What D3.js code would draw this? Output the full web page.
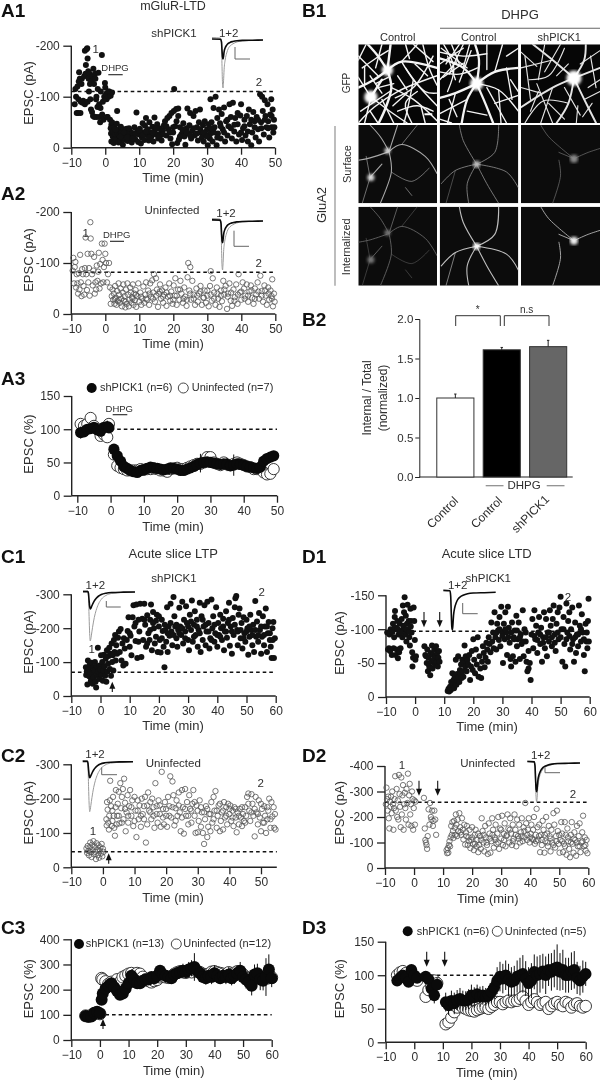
<!DOCTYPE html>
<html><head><meta charset="utf-8">
<script src="https://cdn.jsdelivr.net/npm/d3@7"></script>
<style>
html,body{margin:0;padding:0;background:#fff}
svg{display:block;filter:blur(0.35px)}
text{font-family:"Liberation Sans",Arial,sans-serif;fill:#2e2e2e}
</style></head><body>
<script>
// ---------- scatter data: [time (min), |EPSC| (pA)]
const a1Points=[[-9,85],[-8.8,115],[-8.6,100],[-8.4,68],[-8.2,120],[-8,68],[-7.9,95],[-7.8,130],[-7.7,148],[-7.5,135],[-7.3,68],[-7.2,90],[-7,125],[-6.9,135],[-6.7,88],[-6.5,92],[-6.2,140],[-6,190],[-6,85],[-5.8,145],[-5.7,162],[-5.5,193],[-5.3,195],[-5.2,175],[-5.2,90],[-5,150],[-4.9,135],[-4.8,110],[-4.6,145],[-4.5,125],[-4.4,95],[-4.2,75],[-4.1,130],[-3.9,70],[-3.8,140],[-3.6,62],[-3.5,155],[-3.3,125],[-3.2,60],[-3,145],[-2.9,135],[-2.7,95],[-2.6,100],[-2.5,60],[-2.3,80],[-2.2,115],[-2,147],[-1.8,85],[-1.7,60],[-1.5,50],[-1.4,78],[-1.3,110],[-1,182],[-0.9,65],[-0.7,90],[-0.5,55],[-0.3,100],[-0.1,127],[0,118],[0.2,105],[0.4,95],[0.5,60],[0.7,60],[0.9,110],[1,100],[1.2,110],[1.4,55],[1.6,102],[1.8,45],[2,108],[1.6,38],[1.7,28],[1.8,12],[2,50],[2.2,22],[2.4,32],[2.5,9],[2.7,40],[2.9,18],[3,27],[3.2,15],[3.4,47],[3.5,72],[3.7,28],[3.9,10],[4,35],[4.2,24],[4.4,14],[4.6,41],[4.8,30],[5,19],[5.2,6],[5.4,36],[5.6,25],[5.8,16],[6,30],[6.3,37],[6.6,13],[6.9,25],[7.2,33],[7.5,18],[7.8,10],[8,29],[8.3,24],[8.6,40],[8.9,16],[9.2,69],[9.4,32],[9.7,11],[10,26],[10.2,37],[10.5,8],[10.8,20],[11,48],[11.2,30],[11.5,15],[11.7,43],[12,58],[12.2,25],[12.5,36],[12.8,14],[13,50],[13.3,30],[13.6,22],[13.9,41],[14.2,12],[14.5,59],[14.7,35],[15,26],[15.3,46],[15.6,18],[16,38],[16.3,28],[16.6,14],[17,34],[17.3,44],[17.6,52],[18,24],[18.3,58],[18.6,36],[18.9,62],[19.2,18],[19.5,68],[19.7,7],[20,30],[20.2,72],[20.3,115],[20.6,42],[20.9,76],[21.2,9],[21.5,77],[21.7,16],[22,40],[22.4,26],[22.8,33],[23,48],[23.3,22],[23.6,6],[24,38],[24.2,77],[24.5,28],[24.8,44],[25,68],[25.3,18],[25.6,33],[26,62],[26.3,24],[26.6,72],[27,40],[27.3,14],[27.6,50],[27.9,75],[28.2,30],[28.5,20],[28.8,44],[29,12],[29.3,52],[29.6,26],[30,36],[30.2,5],[30.5,46],[30.8,18],[31,95],[31,28],[31.3,50],[31.6,12],[31.9,78],[32.2,40],[32.5,100],[32.8,5],[33,58],[33.2,28],[33.5,75],[33.8,48],[34,18],[34.3,66],[34.6,36],[35,79],[35.3,12],[35.6,52],[36,24],[36.3,42],[36.6,85],[37,60],[37.3,18],[37.6,88],[38,32],[38.3,58],[38.6,12],[39,46],[39.4,26],[39.8,63],[40,85],[40.3,15],[40.6,38],[41,55],[41.3,24],[41.7,62],[42,12],[42.3,75],[42.6,46],[43,5],[43.3,30],[43.6,70],[44,52],[44.3,20],[44.6,60],[45,36],[45.3,12],[45.6,105],[45.9,50],[46.2,100],[46.4,72],[46.7,26],[47,93],[47.2,62],[47.5,40],[47.8,85],[48,52],[48.3,20],[48.6,65],[48.9,95],[49,40],[49.3,75],[49.5,30],[49.7,55],[49.8,40]];
const a1Extra=[[3,35],[4.5,22],[5.5,30],[6.5,20],[7,38],[8,18],[9,27],[10,33],[11,25],[12,32],[13,20],[14,30],[15,38],[16,22],[17,26],[18,42],[19,30],[20,40],[21,52],[21.5,62],[22,22],[23,36],[24,30],[25,24],[26,38],[27,28],[28,36],[29,30],[30,22],[31,38],[32,30],[33,20],[34,42],[35,30],[36,55],[37,38],[38,45],[39,68],[40,30],[41,42],[42,32],[43,55],[44,40],[45,55],[46,38],[47,55],[48,38],[49,62]];
const a2Points=[[-9.6,85],[-9.4,110],[-9.2,60],[-9,92],[-8.8,102],[-8.6,52],[-8.4,78],[-8.2,60],[-8,40],[-7.8,80],[-7.6,48],[-7.4,116],[-7.2,62],[-7,35],[-6.8,88],[-6.6,78],[-6.4,55],[-6.2,38],[-6,90],[-5.8,150],[-5.6,78],[-5.4,47],[-5.2,118],[-5,62],[-4.8,90],[-4.6,36],[-4.4,180],[-4.3,148],[-4.1,118],[-3.9,78],[-3.7,56],[-3.5,85],[-3.3,112],[-3.1,40],[-2.9,62],[-2.7,48],[-2.5,95],[-2.3,65],[-2.1,83],[-1.9,120],[-1.7,50],[-1.5,98],[-1.3,60],[-1,138],[-0.8,106],[-0.6,62],[-0.4,92],[-0.2,138],[0,118],[0.2,100],[0.5,62],[0.8,78],[1.1,100],[1.4,52],[1.6,20],[1.9,35],[2.1,48],[2.3,28],[2.5,40],[2.7,20],[2.9,55],[3.1,32],[3.3,18],[3.5,45],[3.7,25],[3.9,60],[4.1,38],[4.3,22],[4.5,50],[4.7,30],[4.9,15],[5.1,42],[5.3,58],[5.5,26],[5.7,35],[5.9,13],[6.1,48],[6.3,20],[6.5,60],[6.7,38],[6.9,15],[7.1,28],[7.3,52],[7.5,42],[7.7,22],[7.9,33],[8.1,58],[8.3,18],[8.5,40],[8.7,27],[8.9,47],[9.1,14],[9.4,35],[9.7,60],[10,24],[10.3,42],[10.6,18],[10.9,30],[11.2,54],[11.5,22],[11.8,38],[12,62],[12.3,28],[12.6,46],[12.9,18],[13.2,60],[13.5,34],[13.8,66],[14.1,42],[14.3,78],[14.6,24],[14.9,70],[15.2,48],[15.5,14],[15.8,40],[16.1,58],[16.4,30],[16.7,46],[17,22],[17.3,38],[17.7,52],[18,16],[18.4,34],[18.8,60],[19.1,26],[19.4,44],[19.8,20],[20.1,56],[20.4,36],[20.6,70],[21,18],[21.4,48],[21.8,28],[22.1,65],[22.4,40],[22.8,22],[23.2,52],[23.5,34],[23.9,16],[24.2,72],[24.4,100],[24.7,46],[25,92],[25.2,28],[25.6,65],[26,38],[26.4,18],[26.8,50],[27.2,24],[27.6,40],[28,55],[28.4,18],[28.8,32],[29.2,46],[29.6,22],[30,36],[30.4,15],[30.8,55],[31,84],[31.3,26],[31.6,70],[32,42],[32.4,18],[32.8,52],[33.2,30],[33.6,14],[34,46],[34.3,25],[34.7,65],[35,38],[35.4,55],[35.8,10],[36.1,40],[36.5,60],[36.9,26],[37.3,16],[37.7,48],[38.1,33],[38.5,58],[38.9,20],[39.2,78],[39.6,42],[40,28],[40.4,62],[40.8,50],[41.2,36],[41.6,58],[42,24],[42.4,44],[42.8,56],[43.2,32],[43.6,20],[44,50],[44.4,38],[44.8,62],[45.2,30],[45.6,75],[46,45],[46.4,24],[46.8,56],[47.2,36],[47.5,18],[47.9,52],[48.2,28],[48.6,46],[48.9,35],[49.1,68],[49.3,15],[49.6,40],[49.8,24]];
const a2Extra=[[2.8,30],[4,28],[6,24],[8,30],[9,38],[10.5,34],[12,30],[13,40],[14,30],[15,36],[16,44],[17,34],[18,42],[19,36],[20,28],[21,36],[22,48],[23,30],[24,28],[25,40],[26,30],[27,36],[28,44],[29,32],[30,46],[31,38],[32,30],[33,40],[34,36],[35,48],[36,34],[37,42],[38,26],[39,38],[40,44],[41,30],[42,36],[43,46],[44,30],[45,44],[46,36],[47,46],[48,40],[49,30]];
const c1Points=[[-5,85],[-4.9,62],[-4.7,72],[-4.5,34],[-4.3,105],[-4.1,80],[-3.9,58],[-3.7,92],[-3.5,70],[-3.3,45],[-3.1,98],[-2.9,66],[-2.7,36],[-2.5,84],[-2.3,55],[-2.1,76],[-1.9,100],[-1.7,42],[-1.5,25],[-1.3,88],[-1.1,62],[-0.9,142],[-0.7,72],[-0.5,50],[-0.3,90],[-0.1,78],[0.2,120],[0.4,62],[0.6,100],[0.8,45],[1,75],[1.2,122],[1.4,88],[1.6,60],[1.8,110],[2,42],[2.2,135],[2.4,72],[2.6,95],[2.8,118],[3,142],[3.2,80],[3.4,125],[3.6,60],[3.8,155],[4,100],[4.2,120],[4.4,75],[4.6,165],[4.8,130],[5,180],[5.2,105],[5.4,150],[5.7,125],[6,172],[6.3,190],[6.6,130],[6.9,198],[7.2,105],[7.5,155],[7.8,90],[8,170],[8.3,140],[8.6,95],[9,165],[9.3,192],[9.6,232],[10,145],[10.3,178],[10.6,120],[11,232],[11.3,268],[11.6,205],[12,162],[12.3,270],[12.6,112],[13,225],[13.3,190],[13.6,272],[14,115],[14.3,228],[14.6,165],[15,272],[15.3,210],[15.6,145],[16,238],[16.4,185],[16.8,165],[17,225],[17.3,270],[17.6,135],[18,248],[18.3,200],[18.6,155],[19,222],[19.3,240],[19.6,130],[20,205],[20.3,165],[20.6,128],[21,225],[21.3,192],[21.6,145],[21.9,85],[22.2,195],[22.5,160],[22.8,262],[23,130],[23.3,205],[23.6,178],[24,272],[24.3,190],[24.6,150],[25,292],[25.3,235],[25.6,205],[26,170],[26.3,145],[26.6,195],[27,260],[27.3,205],[27.6,180],[28,278],[28.3,155],[28.6,225],[29,190],[29.3,265],[29.6,215],[30,165],[30.3,135],[30.6,240],[31,195],[31.3,282],[31.6,160],[32,210],[32.3,250],[32.6,180],[33,225],[33.3,145],[33.6,195],[34,275],[34.3,130],[34.6,235],[35,165],[35.3,205],[35.6,268],[36,150],[36.3,190],[36.6,278],[37,215],[37.3,140],[37.6,170],[38,285],[38.3,200],[38.6,235],[39,160],[39.3,185],[39.6,262],[40,145],[40.3,215],[40.6,180],[41,240],[41.3,200],[41.6,165],[42,228],[42.3,135],[42.6,190],[43,250],[43.3,172],[43.6,215],[44,275],[44.3,148],[44.6,205],[45,125],[45.3,230],[45.6,180],[46,262],[46.2,288],[46.5,295],[46.8,195],[47,150],[47.3,240],[47.6,258],[48,170],[48.3,215],[48.6,140],[49,232],[49.3,185],[49.6,160],[50,225],[50.3,200],[50.6,122],[51,175],[51.3,240],[51.6,195],[52,150],[52.3,210],[52.6,130],[53,280],[53.3,175],[53.6,220],[54,160],[54.3,245],[54.6,195],[55,125],[55.3,175],[55.6,235],[56,150],[56.3,205],[56.6,258],[57,130],[57.3,185],[57.6,218],[58,165],[58.3,145],[58.6,112],[58.9,200],[59.2,218],[59.4,112],[59.7,170]];
const c1Extra=[[10,185],[12,215],[13,160],[15,225],[16,155],[17,195],[18,215],[19,175],[20,235],[21,170],[22,210],[23,185],[24,215],[25,180],[26,210],[27,185],[28,200],[29,170],[30,205],[31,220],[32,175],[33,205],[34,185],[35,225],[36,210],[37,190],[38,165],[39,210],[40,180],[41,175],[42,205],[43,190],[44,225],[45,190],[46,210],[47,190],[48,195],[49,170],[50,190],[51,205],[52,180],[53,195],[54,180],[55,205],[56,180],[57,205],[58,185],[59,165]];
const c2Points=[[-5.2,55],[-5,42],[-4.8,62],[-4.6,48],[-4.4,35],[-4.2,58],[-4,72],[-3.8,44],[-3.6,30],[-3.4,66],[-3.2,50],[-3,76],[-2.8,38],[-2.6,60],[-2.4,45],[-2.2,24],[-2,70],[-1.8,52],[-1.6,35],[-1.4,64],[-1.2,28],[-1,48],[-0.8,58],[-0.6,40],[-0.4,68],[-0.2,32],[0,54],[0.2,45],[1.1,140],[1.2,122],[1.3,190],[1.5,168],[1.7,130],[1.9,110],[2,150],[2.2,195],[2.3,252],[2.6,178],[2.8,120],[3,135],[3.2,205],[3.4,150],[3.6,115],[3.8,92],[4,175],[4.1,225],[4.3,125],[4.5,150],[4.7,185],[5,220],[5.2,128],[5.5,245],[5.8,172],[6,205],[6.3,228],[6.5,140],[6.7,258],[7,188],[7.2,105],[7.5,160],[7.8,210],[8,130],[8.3,178],[8.6,225],[9,150],[9.3,195],[9.6,120],[10,205],[10.3,165],[10.6,88],[11,195],[11.3,140],[11.6,180],[12,118],[12.3,200],[12.6,155],[13,178],[13.3,205],[13.6,72],[14,125],[14.3,218],[14.6,165],[15,190],[15.3,140],[15.6,200],[16,150],[16.3,115],[16.6,245],[17,178],[17.3,130],[17.6,195],[18,155],[18.3,118],[18.6,278],[19,170],[19.3,125],[19.6,190],[20,150],[20.3,118],[20.6,205],[21,178],[21.3,265],[21.6,145],[22,250],[22.3,210],[22.6,122],[23,172],[23.3,195],[23.6,150],[24,218],[24.3,160],[24.6,105],[25,225],[25.3,175],[25.6,98],[26,228],[26.3,150],[26.6,190],[27,125],[27.3,210],[27.6,170],[28,130],[28.3,185],[28.6,225],[29,150],[29.3,100],[29.6,180],[30,102],[30.3,135],[30.6,195],[31,118],[31.3,160],[31.6,100],[32,68],[32.3,140],[32.6,178],[33,88],[33.3,118],[33.6,155],[34,105],[34.3,190],[34.6,130],[35,205],[35.3,165],[35.6,222],[36,115],[36.3,150],[36.6,180],[37,105],[37.3,135],[37.6,160],[38,110],[38.3,190],[38.6,145],[39,175],[39.3,125],[39.6,185],[40,155],[40.3,180],[40.6,135],[41,165],[41.3,120],[41.6,175],[42,145],[42.3,102],[42.6,160],[43,125],[43.3,170],[43.6,145],[44,120],[44.3,155],[44.6,135],[45,175],[45.3,150],[45.6,205],[46,215],[46.3,165],[46.6,135],[47,213],[47.3,185],[47.6,150],[48,90],[48.3,205],[48.6,160],[49,125],[49.3,195],[49.6,145],[50,105],[50.3,170],[50.6,130],[51,178],[51.3,150],[51.6,100],[52,140],[52.3,165],[52.6,200],[53,115],[53.3,190],[53.6,148],[54,175],[54.2,115],[54.4,155],[54.6,110]];
const c2Extra=[[3,165],[5,150],[6,130],[7,170],[8,150],[9,175],[10,135],[11,165],[12,150],[13,140],[14,180],[15,160],[16,175],[17,155],[18,180],[19,145],[20,170],[21,150],[22,175],[23,135],[24,180],[25,145],[26,170],[27,150],[28,165],[29,190],[30,165],[31,175],[32,160],[33,170],[34,155],[35,140],[36,165],[37,185],[38,165],[39,150],[40,170],[41,145],[42,170],[43,150],[44,175],[45,130],[46,185],[47,160],[48,170],[49,155],[50,185],[51,130],[52,175],[53,140]];
const d1Points=[[-9.6,95],[-9.3,70],[-9,72],[-8.8,92],[-8.6,68],[-8.4,100],[-8,62],[-7.8,96],[-7.6,108],[-7.4,72],[-7.2,88],[-7,118],[-6.9,127],[-6.7,62],[-6.5,102],[-6.3,70],[-6.1,112],[-5.9,57],[-5.7,92],[-5.5,66],[-5.3,108],[-5,72],[-4.8,98],[-4.6,115],[-4.4,88],[-4.2,135],[-4,100],[-3.8,125],[-3.6,147],[-3.4,92],[-3.2,120],[-3,82],[-2.8,108],[-2.6,136],[-2.4,98],[-2.2,112],[-2,88],[-1.8,76],[-1.6,130],[-1.4,112],[-1.2,95],[-1,66],[-0.9,45],[-0.7,58],[-0.5,132],[-0.3,112],[-0.1,84],[0.1,55],[0.3,60],[3.2,75],[3.5,62],[3.8,60],[4,50],[4.2,70],[4.4,38],[4.6,58],[4.8,46],[5,42],[5.2,32],[5.4,65],[5.6,52],[5.8,76],[6,42],[6.2,62],[6.4,55],[6.6,70],[6.8,48],[7,60],[7.2,75],[7.4,52],[7.6,65],[7.8,45],[8,58],[8.2,68],[8.4,52],[11.2,9],[11.5,12],[11.7,8],[12,15],[12.2,10],[12.4,22],[12.6,12],[12.8,35],[13,18],[13.2,25],[13.4,13],[13.6,30],[13.8,20],[14,55],[14.2,18],[14.4,34],[14.6,24],[14.8,60],[15,30],[15.2,22],[15.4,40],[15.6,35],[15.8,48],[16,28],[16.2,55],[16.4,38],[16.6,30],[16.8,50],[17,76],[17.2,45],[17.4,60],[17.7,38],[18,55],[18.3,48],[18.6,62],[18.9,25],[19.2,45],[19.5,68],[19.8,40],[20,85],[20.3,55],[20.6,35],[20.9,70],[21.2,48],[21.5,88],[21.8,30],[22.1,60],[22.4,42],[22.7,28],[23,52],[23.3,75],[23.6,65],[23.9,44],[24.2,58],[24.5,80],[24.8,70],[25,52],[25.3,88],[25.6,78],[25.9,66],[26.2,110],[26.5,82],[26.8,95],[27,72],[27.3,125],[27.6,88],[27.9,70],[28.2,108],[28.5,98],[28.8,84],[29,118],[29.3,75],[29.6,133],[29.9,96],[30.2,50],[30.5,108],[30.8,85],[31,125],[31.3,95],[31.6,62],[31.9,133],[32.2,102],[32.5,80],[32.8,56],[33,45],[33.3,110],[33.6,60],[33.9,88],[34.2,98],[34.5,52],[34.8,120],[35,75],[35.3,85],[35.6,110],[36,56],[36.3,92],[36.6,78],[37,128],[37.3,60],[37.6,100],[38,82],[38.3,52],[38.6,38],[39,68],[39,42],[39.4,50],[39.7,25],[40,92],[40.3,115],[40.6,72],[41,128],[41.3,85],[41.6,105],[42,65],[42.3,95],[42.6,118],[43,78],[43.3,102],[43.6,52],[44,88],[44.3,125],[44.6,72],[45,115],[45.3,60],[45.6,95],[46,82],[46.3,128],[46.6,105],[47,75],[47.3,115],[47.6,135],[48,92],[48.3,68],[48.6,108],[49,125],[49.3,85],[49.6,132],[50,148],[50.3,100],[50.6,52],[51,118],[51.3,78],[51.6,45],[52,138],[52.3,95],[52.6,112],[53,125],[53.3,70],[53.6,100],[54,132],[54.3,85],[54.6,52],[55,110],[55.3,65],[55.6,92],[56,75],[56.3,135],[56.6,105],[57,82],[57.3,122],[57.6,95],[58,62],[58.3,38],[58.6,108],[58.9,82],[59.2,72],[59.4,112],[59.6,145],[59.7,82]];
const d1Extra=[[-7,102],[-6,100],[-5,95],[-4,105],[-3,100],[-2,96],[-1.5,104],[28,95],[29,100],[30,90],[31,100],[32,88],[33,95],[34,85],[35,98],[36,88],[37,82],[38,95],[41,90],[42,84],[43,92],[44,80],[45,88],[46,95],[47,88],[48,80],[49,95],[50,88],[51,100],[52,85],[53,90],[54,78],[55,88],[56,92],[57,100],[58,85],[59,95]];
const d2Points=[[-9.7,250],[-9.5,315],[-9.3,270],[-9.1,225],[-8.9,280],[-8.7,195],[-8.5,155],[-8.3,260],[-8.1,240],[-7.9,280],[-7.7,215],[-7.5,300],[-7.3,250],[-7.1,150],[-6.9,235],[-6.7,270],[-6.5,360],[-6.3,225],[-6,310],[-5.8,200],[-5.6,265],[-5.4,190],[-5.2,365],[-5,290],[-4.8,240],[-4.6,160],[-4.4,355],[-4.2,210],[-4,285],[-3.8,325],[-3.6,150],[-3.4,250],[-3.2,295],[-3,235],[-2.8,190],[-2.6,310],[-2.3,255],[-2.1,370],[-1.9,170],[-1.7,285],[-1.5,330],[-1.3,210],[-1.1,250],[-0.9,165],[-0.7,300],[-0.5,270],[-0.3,150],[-0.1,235],[0.1,265],[0.3,170],[0.5,260],[3.4,275],[3.7,155],[3.9,110],[4.1,100],[4.3,90],[4.5,75],[4.7,125],[5,230],[5.3,170],[5.5,255],[5.8,200],[6,190],[6.2,225],[6.5,165],[6.7,185],[7,225],[7.3,190],[7.6,130],[11.2,70],[11.4,58],[11.6,78],[11.8,60],[12,90],[12.2,105],[12.4,85],[12.6,120],[12.8,165],[13,130],[13.2,180],[13.4,145],[13.6,118],[13.8,185],[14,158],[14.2,130],[14.4,210],[14.6,170],[14.8,125],[15,190],[15.3,145],[15.6,215],[15.9,160],[16.2,130],[16.5,195],[16.8,150],[17,112],[17.3,170],[17.6,92],[17.9,140],[18.2,165],[18.5,90],[18.8,120],[19.1,150],[19.4,78],[19.7,110],[20,160],[20.3,95],[20.6,70],[20.9,130],[21.2,150],[21.5,85],[21.8,110],[22.1,62],[22.4,90],[22.7,125],[23,75],[23.3,195],[23.6,145],[23.9,100],[24.2,65],[24.5,165],[24.8,120],[25.1,90],[25.4,55],[25.7,175],[26,135],[26.3,60],[26.6,105],[26.9,195],[27.2,150],[27.5,80],[27.8,120],[28.1,170],[28.4,95],[28.7,135],[29,200],[29.3,75],[29.6,155],[30,115],[30.3,205],[30.6,90],[30.9,135],[31.2,175],[31.5,85],[31.8,125],[32.2,210],[32.5,155],[32.8,100],[33.1,195],[33.4,135],[33.7,90],[34,170],[34.3,115],[34.6,210],[34.9,150],[35.2,85],[35.5,190],[35.8,125],[36.2,170],[36.5,100],[36.8,140],[37.1,195],[37.4,105],[37.7,160],[38,120],[38.3,255],[38.6,175],[38.9,110],[39.2,150],[39.5,195],[39.8,100],[40.1,135],[40.4,170],[40.7,115],[41,150],[41.3,200],[41.6,95],[41.9,130],[42.2,232],[42.5,160],[42.8,110],[43.1,170],[43.4,62],[43.7,130],[44,90],[44.3,185],[44.6,150],[44.9,60],[45.2,105],[45.5,200],[45.8,135],[46.1,85],[46.4,165],[46.7,125],[47,65],[47.3,150],[47.6,100],[48,215],[48.3,170],[48.6,80],[48.9,125],[49.2,225],[49.5,145],[49.8,95],[50.1,60],[50.4,110],[50.7,180],[51,135],[51.3,62],[51.6,95],[51.9,180],[52.2,130],[52.5,52],[52.8,155],[53.1,105],[53.4,75],[53.7,42],[54,130],[54.3,180],[54.6,95],[54.9,60],[55.2,140],[55.5,110],[55.8,48],[56.1,165],[56.4,85],[56.7,125],[57,175],[57.3,62],[57.6,100],[57.9,140],[58.2,205],[58.5,85],[58.8,120],[59.1,68],[59.4,110],[59.7,58]];
const d2Extra=[[16,140],[18,125],[19,105],[20,120],[21,95],[22,135],[23,110],[24,130],[25,100],[26,115],[27,130],[28,110],[29,100],[30,150],[31,110],[32,130],[33,150],[34,105],[35,130],[36,115],[37,125],[38,145],[39,130],[40,120],[41,110],[42,105],[43,125],[44,110],[45,130],[46,100],[47,115],[48,90],[49,105],[50,130],[51,105],[52,85],[53,120],[54,100],[55,115],[56,100],[57,85],[58,105],[59,90]];

// ---------- averaged series (%), with s.e.m.
const a3Times=[-9,-8,-7,-6,-5,-4,-3,-2,-1,-0.5,1,2,3,4,5,6,7,8,9,10,11,12,13,14,15,16,17,18,19,20,21,22,23,24,25,26,27,28,29,30,31,32,33,34,35,36,37,38,39,40,41,42,43,44,45,46,47,48,49];
const a3Sh=[95,96,100,101,103,99,97,103,104,102,70,60,52,44,41,38,36,35,38,39,41,43,42,41,40,39,40,42,41,40,38,38,40,42,44,47,49,50,51,50,49,48,47,48,47,45,46,48,47,46,44,43,42,41,43,52,56,58,60];
const a3ShErr=[9,6,7,5,6,7,8,6,9,7,5,4,4,3,3,3,3,3,4,4,4,3,3,3,3,4,4,4,3,4,4,3,4,4,5,9,14,6,7,7,6,8,6,6,10,6,16,7,6,6,5,6,5,6,5,7,6,7,6];
const a3Un=[108,105,108,117,105,100,90,92,88,108,62,45,42,40,38,38,38,38,40,39,40,40,41,40,38,38,36,40,41,42,40,40,42,44,46,48,48,50,58,58,50,48,46,50,47,46,48,50,48,46,44,43,40,40,42,35,32,33,40];
const c3Times=[-5,-4,-3,-2,-1,0,0.6,1,2,3,4,5,6,7,8,9,10,11,12,13,14,15,16,17,18,19,20,21,22,23,24,25,26,27,28,29,30,31,32,33,34,35,36,37,38,39,40,41,42,43,44,45,46,47,48,49,50,51,52,53,54,55,56,57,58,59,60];
const c3Sh=[95,92,93,108,112,105,160,185,205,215,225,210,195,180,185,205,225,255,240,225,225,235,240,240,250,245,255,275,260,255,250,245,260,265,270,275,270,280,285,290,275,265,250,245,255,250,265,255,245,255,250,260,245,255,265,275,250,240,230,215,260,265,240,235,250,280,245];
const c3ShErr=[5,5,6,7,7,8,8,9,10,12,12,12,12,10,12,14,18,15,15,14,14,15,15,16,16,18,18,20,20,22,25,22,20,22,25,28,25,30,32,55,30,25,22,25,25,28,32,25,22,25,28,30,28,32,30,35,30,35,35,38,40,38,42,38,75,60,35];
const c3Un=[96,94,98,104,108,104,245,240,232,222,230,225,240,230,250,255,262,265,258,265,262,250,240,235,230,235,240,250,255,250,248,252,262,268,272,270,268,272,270,280,272,268,262,258,262,270,272,268,265,262,260,268,262,266,272,270,260,250,245,240,248,252,245,248,255,262,248];
const d3Times=[-6,-5,-4,-3,-2,-1,0,1,4,5,6,7,8,11,12,13,14,15,16,17,18,19,20,21,22,23,24,25,26,27,28,29,30,31,32,33,34,35,36,37,38,39,40,41,42,43,44,45,46,47,48,49,50,51,52,53,54,55,56,57,58,59,60];
const d3Sh=[92,96,100,97,90,108,100,96,98,94,80,70,86,60,55,62,58,63,65,62,62,64,70,67,72,68,70,68,70,75,82,92,98,95,100,93,90,92,98,100,102,95,88,92,105,100,102,106,100,108,105,110,112,105,108,100,100,106,108,96,92,98,102];
const d3ShErr=[6,5,6,5,5,7,6,6,7,8,10,12,10,14,14,15,16,15,16,15,14,15,16,15,14,15,14,13,14,16,18,20,22,22,22,24,22,22,24,26,28,26,24,26,26,28,28,26,28,24,28,28,34,28,30,26,26,28,28,24,22,24,18];
const d3Un=[100,104,106,103,98,94,97,92,68,78,84,92,88,27,30,37,45,52,56,52,50,48,47,46,48,50,52,52,50,53,56,60,60,57,60,62,60,62,62,65,68,62,56,60,64,60,56,58,60,50,54,58,60,56,54,60,58,52,56,58,54,52,54];

// ---------- bar chart
const barLabels=["Control","Control","shPICK1"];
const barValues=[1.0,1.61,1.65];
const barErrors=[0.05,0.03,0.08];
const barFills=["#ffffff","#000000","#666666"];

// ---------- inset EPSC waveforms (normalised)
const traceTimes=[0,18,20,21,22,23,24,25,27,30,33,37,42,50,60,80,100];
const traceFast=[-0.05,-0.04,0.1,0.55,0.92,1,0.85,0.62,0.42,0.27,0.18,0.12,0.08,0.04,0.02,0.01,0];
const traceSlow=[-0.02,-0.02,0.1,0.5,0.85,1,0.96,0.88,0.72,0.52,0.38,0.25,0.15,0.07,0.03,0.01,0];

// ---------- neuron micrograph sketches (panel units 0-100)
const gfpControl=[[[37,33],[25,15],[12,0]],[[37,33],[55,22],[100,30]],[[37,33],[41,0]],[[37,33],[20,45],[0,55]],[[37,33],[42,55],[35,80],[26,100]],[[16,67],[30,45]],[[16,67],[0,42]],[[16,67],[8,100]],[[16,67],[40,85],[62,100]],[[55,22],[75,0]],[[55,22],[70,45],[100,78]],[[60,30],[85,60],[100,62]],[[42,55],[70,70],[100,97]],[[70,45],[62,85],[58,100]],[[82,0],[90,30],[100,52]],[[0,15],[25,40]],[[3,85],[40,60]],[[0,100],[20,80],[50,60],[100,40]],[[10,0],[0,20]],[[30,70],[45,100]],[[60,0],[65,18]],[[80,80],[85,100]],[[5,30],[22,18],[38,8]],[[47,68],[70,55],[95,15]],[[15,40],[30,62]],[[22,50],[38,42]],[[25,55],[45,50]],[[8,28],[8,50]],[[70,0],[95,22]],[[50,40],[62,58]],[[75,60],[60,75],[68,100]],[[30,0],[22,30]],[[50,85],[75,78],[95,85]],[[15,85],[25,100]],[[88,40],[72,25]],[[44,78],[62,62]]];
const gfpDhpg=[[[47,50],[30,30],[0,18]],[[47,50],[50,20],[45,0]],[[47,50],[70,35],[100,30]],[[47,50],[20,62],[0,68]],[[47,50],[35,70],[28,100]],[[47,50],[58,75],[68,100]],[[47,50],[75,58],[100,85]],[[30,30],[38,0]],[[0,35],[25,38],[48,30]],[[5,0],[18,30],[10,60]],[[70,35],[80,0]],[[75,58],[78,100]],[[20,62],[10,100]],[[60,0],[60,32]],[[0,88],[35,70]],[[0,10],[30,15],[60,12]],[[15,0],[25,25]],[[25,0],[8,25]],[[0,25],[30,5]],[[90,45],[100,60]],[[85,15],[100,5]],[[4,42],[30,24]],[[10,15],[20,45]],[[0,45],[22,22]],[[30,0],[12,38]],[[2,5],[35,30]],[[40,8],[25,48]],[[60,55],[85,100]],[[35,85],[60,90]],[[70,75],[100,65]],[[85,30],[92,70]],[[12,70],[22,92]],[[0,95],[15,100]]];
const gfpSh=[[[67,43],[40,20],[15,0]],[[67,43],[80,20],[82,0]],[[67,43],[100,30]],[[67,43],[40,55],[0,80]],[[67,43],[60,75],[45,100]],[[67,43],[80,70],[95,100]],[[40,20],[0,30]],[[40,55],[25,100]],[[80,70],[100,60]],[[10,45],[35,40],[55,5]],[[20,50],[40,100]],[[5,100],[28,72],[60,75]],[[75,25],[100,8]],[[85,55],[100,45]],[[50,0],[30,35]],[[0,10],[20,28]],[[70,100],[72,78]],[[0,55],[25,62]],[[5,15],[12,70]],[[30,0],[22,45]],[[55,55],[75,90]],[[88,15],[95,55]],[[35,75],[55,95]],[[12,85],[22,60]],[[60,25],[45,40]],[[90,75],[78,92]]];
const surfaceControl=[[[39,34],[28,15],[15,0]],[[39,34],[55,25],[85,40],[100,62]],[[39,34],[50,0]],[[39,34],[15,42],[0,45]],[[39,34],[42,60],[28,100]],[[15,67],[30,50]],[[15,67],[5,100]],[[15,67],[10,40]],[[42,60],[68,72],[90,55]],[[55,25],[75,0]],[[60,80],[68,90]]];
const surfaceDhpg=[[[47,50],[30,20],[25,0]],[[47,50],[70,35],[75,0]],[[47,50],[20,58],[2,75]],[[47,50],[35,75],[37,100]],[[47,50],[60,75],[75,100]],[[47,50],[85,60],[100,80]],[[20,58],[8,100]]];
const surfaceSh=[[[67,43],[35,15],[25,0]],[[67,43],[85,35],[100,30]],[[67,43],[48,35]],[[48,45],[50,65],[40,100]]];
const somaLayout=[[[37,33,6],[16,67,7]],[[47,50,7]],[[67,43,8]]];
const photoRows=["gfp","surface","internal"];

// ---------- tick values
const ticksA=[-10,0,10,20,30,40,50];
const ticksC=[-10,0,10,20,30,40,50,60];
const ticksC2=[-10,0,10,20,30,40,50];

const svg=d3.select("body").append("svg").attr("width",600).attr("height",1080);
const defs=svg.append("defs");
defs.append("filter").attr("id","soft").append("feGaussianBlur").attr("stdDeviation",0.5);
defs.append("filter").attr("id","softer").append("feGaussianBlur").attr("stdDeviation",1.6);
const ink="#222";

function label(s,x,y,o={}){
  const t=svg.append("text").attr("x",x).attr("y",y).text(s)
    .attr("font-size",o.size||12).attr("text-anchor",o.anchor||"middle");
  if(o.bold)t.attr("font-weight","bold").style("fill","#111");
  if(o.rotate!==undefined)t.attr("transform",`rotate(${o.rotate} ${x} ${y})`);
  return t;
}
function panel(c){
  const x=d3.scaleLinear().domain(c.xd).range(c.xr);
  const y=d3.scaleLinear().domain(c.yd).range(c.yr);
  const g=svg.append("g");
  const xa=g.append("g").attr("transform",`translate(0,${c.yr[0]})`)
    .call(d3.axisBottom(x).tickValues(c.xt).tickSize(7).tickPadding(3.5));
  const ya=g.append("g").attr("transform",`translate(${c.yx||c.xr[0]},0)`)
    .call(d3.axisLeft(y).tickValues(c.yt).tickSize(8).tickPadding(3.5)
      .tickFormat(c.neg?(d=>d===0?"0":"-"+d):(c.yfmt||(d=>d))));
  [xa,ya].forEach(a=>{a.select(".domain").remove();
    a.selectAll("line").attr("stroke",ink).attr("stroke-width",1.3);
    a.selectAll("text").attr("font-size",12).style("font-family",'"Liberation Sans",Arial,sans-serif');});
  g.append("line").attr("x1",c.yx||c.xr[0]).attr("x2",x(c.xEnd)).attr("y1",c.yr[0]).attr("y2",c.yr[0]).attr("stroke",ink).attr("stroke-width",1.4);
  g.append("line").attr("x1",c.yx||c.xr[0]).attr("x2",c.yx||c.xr[0]).attr("y1",c.yr[0]).attr("y2",y(c.yd[1])).attr("stroke",ink).attr("stroke-width",1.4);
  if(c.dash){g.append("line").attr("x1",x(c.dash[0])).attr("x2",x(c.dash[1])).attr("y1",y(c.dash[2])).attr("y2",y(c.dash[2]))
    .attr("stroke","#111").attr("stroke-width",1.5).attr("stroke-dasharray","3.6 3");}
  if(c.points){g.append("g").selectAll("circle").data(c.points).join("circle")
    .attr("cx",d=>x(d[0])).attr("cy",d=>y(d[1])).attr("r",c.open?2.7:3)
    .attr("fill",c.open?"none":"#111").attr("stroke",c.open?"#555":"none").attr("stroke-width",0.8);}
  if(c.ylab)label(c.ylab,c.ylabx,c.ylaby,{size:13,rotate:-90});
  if(c.xlab)label("Time (min)",c.xlabx,c.yr[0]+c.xlab,{size:13});
  return {x,y,g};
}
function means(p,times,sh,shErr,un,r){
  p.g.append("g").selectAll("circle").data(times).join("circle")
    .attr("cx",d=>p.x(d)).attr("cy",(d,i)=>p.y(un[i])).attr("r",r)
    .attr("fill","#fff").attr("stroke","#222").attr("stroke-width",0.9);
  p.g.append("g").selectAll("line").data(times).join("line")
    .attr("x1",d=>p.x(d)).attr("x2",d=>p.x(d))
    .attr("y1",(d,i)=>p.y(sh[i]-shErr[i])).attr("y2",(d,i)=>p.y(sh[i]+shErr[i]))
    .attr("stroke","#111").attr("stroke-width",1);
  p.g.append("g").selectAll("circle").data(times).join("circle")
    .attr("cx",d=>p.x(d)).attr("cy",(d,i)=>p.y(sh[i])).attr("r",r).attr("fill","#0a0a0a");
}
function legend(cx1,tx1,cx2,tx2,cy,base,s1,s2,r){
  svg.append("circle").attr("cx",cx1).attr("cy",cy).attr("r",r).attr("fill","#0a0a0a");
  label(s1,tx1,base,{anchor:"start",size:11});
  svg.append("circle").attr("cx",cx2).attr("cy",cy).attr("r",r).attr("fill","#fff").attr("stroke","#333").attr("stroke-width",0.9);
  label(s2,tx2,base,{anchor:"start",size:11});
}
function inset(c){
  const tx=d3.scaleLinear().domain([0,20,100]).range([c.x0,c.on,c.x1]);
  const line=(shape,peak)=>{
    const ty=d3.scaleLinear().domain([0,1]).range([c.base,peak]);
    return d3.line().x((d,i)=>tx(traceTimes[i])).y(d=>ty(d)).curve(d3.curveMonotoneX)(shape);
  };
  if(c.grey)svg.append("path").attr("d",line(c.shape,c.grey)).attr("fill","none").attr("stroke","#9a9a9a").attr("stroke-width",1);
  svg.append("path").attr("d",line(c.shape,c.black)).attr("fill","none").attr("stroke","#0a0a0a").attr("stroke-width",1.6);
  svg.append("path").attr("d",`M${c.sx},${c.sy0}V${c.sy1}H${c.sx1}`).attr("fill","none").attr("stroke","#666").attr("stroke-width",1);
}
function arrow(x,y0,y1){
  const dir=y1>y0?1:-1;
  svg.append("line").attr("x1",x).attr("x2",x).attr("y1",y0).attr("y2",y1-dir*4).attr("stroke","#111").attr("stroke-width",1.1);
  svg.append("path").attr("d",`M${x},${y1}L${x-3},${y1-dir*7}L${x+3},${y1-dir*7}Z`).attr("fill","#111");
}
function dhpgBar(text,cx,base,x1,x2,y){
  label(text,cx,base,{size:9.5});
  svg.append("line").attr("x1",x1).attr("x2",x2).attr("y1",y).attr("y2",y).attr("stroke","#222").attr("stroke-width",1.1);
}

// ---------- panel labels
[["A1",1,17],["A2",1,200],["A3",1,385],["B1",302,17],["B2",302,326],["C1",1,563],["C2",1,762],["C3",1,934],["D1",302,563],["D2",302,762],["D3",302,934]]
  .forEach(d=>label(d[0],d[1],d[2],{size:19,bold:true,anchor:"start"}));

// ---------- A1
panel({xd:[-10,50],xr:[71.3,275],yd:[0,200],yr:[147.7,45.7],neg:true,xt:ticksA,yt:[0,100,200],xEnd:50,points:a1Points.concat(a1Extra),dash:[-10,50,110],ylab:"EPSC (pA)",ylabx:33,ylaby:93,xlab:34,xlabx:173});
label("mGluR-LTD",173,10,{size:12.5});label("shPICK1",174,37,{size:11.5});
label("1+2",228.7,37,{size:11.5});label("1",95.7,53,{size:11.5});label("2",259,86,{size:11.5});
dhpgBar("DHPG",115,70.7,108.3,122.7,74.7);
inset({x0:212,on:221.5,x1:263,base:40,black:59,grey:88,shape:traceFast,sx:235,sy0:47,sy1:59,sx1:250});

// ---------- A2
panel({xd:[-10,50],xr:[71.3,275.3],yd:[0,200],yr:[314,212],neg:true,xt:ticksA,yt:[0,100,200],xEnd:50,points:a2Points.concat(a2Extra),open:true,dash:[-10,50,82],ylab:"EPSC (pA)",ylabx:33,ylaby:260,xlab:34,xlabx:173});
label("Uninfected",172,214,{size:11.5});label("1+2",226,217.3,{size:11.5});label("1",85.7,236.7,{size:11.5});label("2",258.7,267.3,{size:11.5});
dhpgBar("DHPG",116.7,237.7,110,124,241.3);
inset({x0:212,on:221,x1:263,base:221,black:242.7,grey:270,shape:traceFast,sx:234,sy0:230.7,sy1:246.3,sx1:249});

// ---------- A3
const pA3=panel({xd:[-10,50],xr:[77.3,277],yd:[0,150],yr:[495.7,396],yx:71.7,xt:ticksA,yt:[0,50,100,150],xEnd:50,dash:[0,50,100],ylab:"EPSC (%)",ylabx:33,ylaby:444,xlab:35,xlabx:173});
means(pA3,a3Times,a3Sh,a3ShErr,a3Un,5.6);
legend(91.7,100,183.3,191.7,388,391.3,"shPICK1 (n=6)","Uninfected (n=7)",5);
dhpgBar("DHPG",119.3,412.3,112.7,127.3,414.7);

// ---------- C1
panel({xd:[-10,60],xr:[71.3,275.7],yd:[0,300],yr:[696,594.3],neg:true,xt:ticksC,yt:[0,100,200,300],xEnd:60,points:c1Points.concat(c1Extra),dash:[-10,60,70],ylab:"EPSC (pA)",ylabx:33,ylaby:642,xlab:34,xlabx:173});
label("Acute slice LTP",173.3,558.3,{size:13});label("shPICK1",174,581.7,{size:11.5});
label("1+2",95.3,589,{size:11.5});label("1",91.7,652.7,{size:11.5});label("2",261.7,596,{size:11.5});
inset({x0:83,on:88.5,x1:135,base:592,black:609,grey:641,shape:traceSlow,sx:106.3,sy0:601,sy1:607,sx1:120.7});
arrow(112.3,692,681.7);

// ---------- C2
panel({xd:[-10,50],xr:[71.3,261],yd:[0,300],yr:[867.3,764.3],neg:true,xt:ticksC2,yt:[0,100,200,300],xEnd:55,points:c2Points.concat(c2Extra),open:true,dash:[-10,55,45],ylab:"EPSC (pA)",ylabx:33,ylaby:812.7,xlab:35,xlabx:173});
label("1+2",95,758.3,{size:11.5});label("Uninfected",173.3,766.7,{size:11.5});label("1",93,835.3,{size:11.5});label("2",260.7,786.7,{size:11.5});
inset({x0:82.7,on:88,x1:133,base:761.7,black:777.7,grey:811.7,shape:traceSlow,sx:101.7,sy0:767.3,sy1:774.7,sx1:117});
arrow(108.7,863.7,853.3);

// ---------- C3
const pC3=panel({xd:[-10,60],xr:[71.3,271.7],yd:[0,400],yr:[1040,939.3],xt:ticksC,yt:[0,100,200,300,400],xEnd:60,dash:[-5,60,100],ylab:"EPSC (%)",ylabx:33,ylaby:988.7,xlab:35,xlabx:173.7});
means(pC3,c3Times,c3Sh,c3ShErr,c3Un,6);
legend(79,85.7,176.3,183.3,944,947.3,"shPICK1 (n=13)","Uninfected (n=12)",5);
arrow(103,1029,1019);

// ---------- D1
panel({xd:[-10,60],xr:[386,589.7],yd:[0,150],yr:[697,595.3],neg:true,xt:ticksC,yt:[0,50,100,150],xEnd:60,points:d1Points.concat(d1Extra),dash:[-10,60,97],ylab:"EPSC (pA)",ylabx:344,ylaby:643,xlab:34,xlabx:487});
label("Acute slice LTD",486.7,558.3,{size:13});label("shPICK1",488.3,581.7,{size:11.5});label("1+2",457.7,589,{size:11.5});label("2",568,601,{size:11.5});
inset({x0:443.3,on:450.7,x1:495.7,base:592.3,black:630,shape:traceFast,sx:462.7,sy0:603,sy1:613.7,sx1:477.7});
arrow(424,612,627.3);arrow(439.7,612,627.3);

// ---------- D2
panel({xd:[-10,60],xr:[385,588.3],yd:[0,400],yr:[868,766],neg:true,xt:ticksC,yt:[0,100,200,300,400],xEnd:60,points:d2Points.concat(d2Extra),open:true,dash:[-10,60,258],ylab:"EPSC (pA)",ylabx:344,ylaby:812.7,xlab:35,xlabx:487.7});
label("Uninfected",487.7,766.7,{size:11.5});label("1+2",540.7,759.3,{size:11.5});label("1",402,768.7,{size:11.5});label("2",573,797.7,{size:11.5});
inset({x0:527.3,on:535,x1:580,base:763,black:791.7,grey:801.7,shape:traceFast,sx:545,sy0:767.7,sy1:772.7,sx1:560});
arrow(419,780.7,795.7);arrow(437.7,780.7,795.7);

// ---------- D3
const pD3=panel({xd:[-10,60],xr:[385.7,585.7],yd:[0,150],yr:[1042.3,941.7],xt:ticksC,yt:[0,50,100,150],xEnd:60,dash:[-6,60,100],ylab:"EPSC (%)",ylabx:344,ylaby:988.7,xlab:35,xlabx:486.7});
means(pD3,d3Times,d3Sh,d3ShErr,d3Un,5.8);
legend(407.7,416.7,497.3,504.7,931.3,934.7,"shPICK1 (n=6)","Uninfected (n=5)",5);
arrow(426.7,951.7,966.7);arrow(444.7,951.7,966.7);

// ---------- B2 bars
const bx=d3.scaleBand().domain(d3.range(3)).range([427.5,576]).paddingInner(0.2).paddingOuter(0.2);
const by=d3.scaleLinear().domain([0,2]).range([477,319]);
const b=svg.append("g");
const bya=b.append("g").attr("transform","translate(419.3,0)").call(d3.axisLeft(by).tickValues([0,0.5,1,1.5,2]).tickFormat(d3.format(".1f")).tickSize(4).tickPadding(2));
bya.selectAll("line").attr("stroke",ink);bya.selectAll("text").attr("font-size",11.5).style("font-family",'"Liberation Sans",Arial,sans-serif');
bya.select(".domain").attr("stroke",ink);
b.append("line").attr("x1",419.3).attr("x2",572.7).attr("y1",477).attr("y2",477).attr("stroke",ink).attr("stroke-width",1.2);
b.selectAll("rect").data(barValues).join("rect").attr("x",(d,i)=>bx(i)).attr("width",bx.bandwidth())
  .attr("y",d=>by(d)).attr("height",d=>477-by(d)).attr("fill",(d,i)=>barFills[i]).attr("stroke","#333").attr("stroke-width",1);
b.selectAll(".err").data(barValues).join("path").attr("class","err").attr("fill","none").attr("stroke","#222")
  .attr("d",(d,i)=>{const cx=bx(i)+bx.bandwidth()/2;return `M${cx},${by(d)}V${by(d+barErrors[i])}M${cx-1.2},${by(d+barErrors[i])}H${cx+1.2}`;});
const bracket=(x1,x2)=>b.append("path").attr("d",`M${x1},326V315.7H${x2}V326`).attr("fill","none").attr("stroke","#333").attr("stroke-width",1);
bracket(455.7,500.3);bracket(504.3,549);
label("*",477.7,313,{size:10});label("n.s",526.7,313,{size:10});
label("DHPG",524,489,{size:11.5});
[[485.7,503.5],[546.7,564.5]].forEach(d=>b.append("line").attr("x1",d[0]).attr("x2",d[1]).attr("y1",485.7).attr("y2",485.7).attr("stroke","#888").attr("stroke-width",1.2));
[[459,496.7],[503,496.7],[550,495]].forEach((d,i)=>label(barLabels[i],d[0],d[1]+5,{anchor:"end",rotate:-45}));
label("Internal / Total",371,398,{rotate:-90});label("(normalized)",387,398,{rotate:-90});

// ---------- B1 photo grid
const colX=[[358.3,437],[439.7,518.3],[521,600]];
const rowY=[[44.3,123],[125,203.3],[206.7,285.7]];
const layouts={gfp:[gfpControl,gfpDhpg,gfpSh],surface:[surfaceControl,surfaceDhpg,surfaceSh],internal:[surfaceControl,surfaceDhpg,surfaceSh]};
const looks={gfp:{c:["#f4f4f4","#f4f4f4","#e4e4e4"],w:[2,1.9,1.6],s:["#fff","#fff","#fff"]},
  surface:{c:["#a8a8a8","#8a8a8a","#6f6f6f"],w:[0.9,0.7,0.6],s:["#ddd","#bbb","#8a8a8a"]},
  internal:{c:["#6a6a6a","#c0c0c0","#a8a8a8"],w:[0.7,0.9,0.8],s:["#777","#fff","#eee"]}};
photoRows.forEach((row,ri)=>colX.forEach((cx,ci)=>{
  const id=`clip${ri}${ci}`;
  defs.append("clipPath").attr("id",id).append("rect").attr("x",cx[0]).attr("y",rowY[ri][0]).attr("width",cx[1]-cx[0]).attr("height",rowY[ri][1]-rowY[ri][0]);
  const g=svg.append("g").attr("clip-path",`url(#${id})`);
  g.append("rect").attr("x",cx[0]).attr("y",rowY[ri][0]).attr("width",cx[1]-cx[0]).attr("height",rowY[ri][1]-rowY[ri][0]).attr("fill",ri===0?"#060606":"#0c0c0c");
  const px=d3.scaleLinear().domain([0,100]).range(cx);
  const py=d3.scaleLinear().domain([0,100]).range(rowY[ri]);
  const look=looks[row];
  const ln=d3.line().x(d=>px(d[0])).y(d=>py(d[1])).curve(d3.curveCatmullRom);
  const inner=g.append("g").attr("filter","url(#soft)");
  inner.selectAll("path").data(layouts[row][ci]).join("path").attr("d",ln).attr("fill","none")
    .attr("stroke",look.c[ci]).attr("stroke-width",(d,i)=>look.w[ci]*(i<6?1.2:0.7)).attr("stroke-linecap","round");
  const somas=somaLayout[ci];
  g.append("g").attr("filter","url(#softer)").selectAll("circle").data(somas).join("circle")
    .attr("cx",d=>px(d[0])).attr("cy",d=>py(d[1])).attr("r",d=>d[2]*(row==="gfp"?0.95:0.5)).attr("fill",look.s[ci]);
  if(ri===0&&ci===0)g.append("line").attr("x1",px(84)).attr("x2",px(94)).attr("y1",py(89)).attr("y2",py(89)).attr("stroke","#fff").attr("stroke-width",2);
}));
label("DHPG",520,19.3,{size:13});
svg.append("line").attr("x1",440).attr("x2",600).attr("y1",28.3).attr("y2",28.3).attr("stroke","#666").attr("stroke-width",1.1);
label("Control",397.7,41.3,{size:11});label("Control",478.7,41.3,{size:11});label("shPICK1",559.3,41.3,{size:11});
label("GFP",350,83,{size:10,rotate:-90});label("Surface",350.5,164,{size:11,rotate:-90});label("Internalized",350.5,246.7,{size:11,rotate:-90});
label("GluA2",325.5,205,{size:13,rotate:-90});
svg.append("line").attr("x1",335).attr("x2",335).attr("y1",126).attr("y2",285.7).attr("stroke","#888").attr("stroke-width",1.1);
</script>
</body></html>
